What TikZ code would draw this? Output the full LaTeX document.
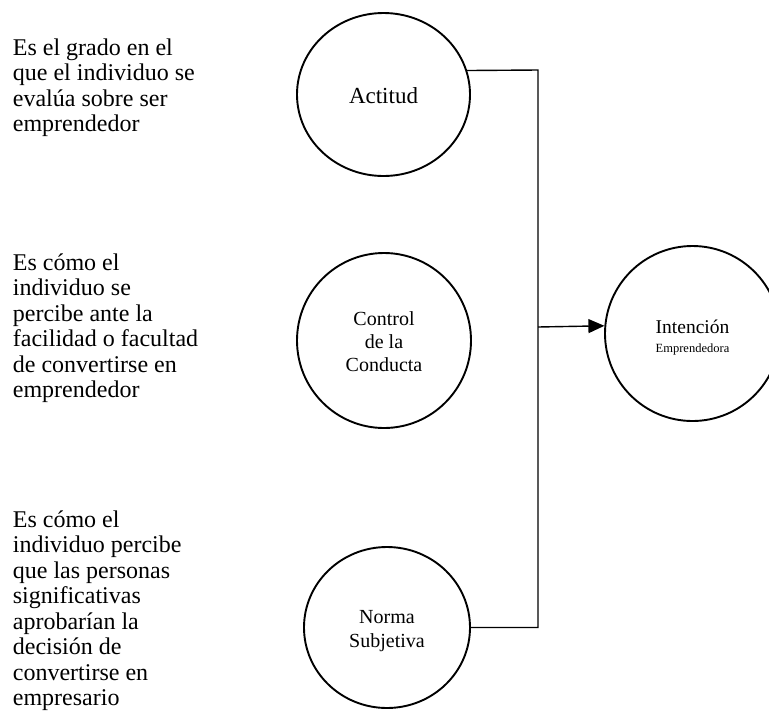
\documentclass[tikz,border=0pt]{standalone}
\usepackage{fontspec}
\setmainfont{Liberation Serif}
\usetikzlibrary{shapes.geometric,arrows.meta}
\tikzset{
  circ/.style={draw=black, line width=1.9pt, ellipse, inner sep=0pt},
  conn/.style={draw=black, line width=1.4pt},
  desc/.style={anchor=base west, inner sep=0pt, font=\fontsize{24}{25.5}\selectfont},
  lbl/.style={anchor=base, inner sep=0pt},
}
\begin{document}
\begin{tikzpicture}[x=1pt,y=-1pt]
\useasboundingbox (0,0) rectangle (769,724);
% circles
\node[circ, minimum width=173pt, minimum height=163pt] (act) at (383.5,94.5) {};
\node[circ, minimum width=174pt, minimum height=175pt] (ctl) at (384,340.5) {};
\node[circ, minimum width=175pt, minimum height=175pt] (int) at (692.5,333.5) {};
\node[circ, minimum width=166pt, minimum height=161pt] (nrm) at (387,627.5) {};
% labels
\node[lbl, font=\fontsize{23}{26}\selectfont] (tact) at (383.5,103) {Actitud};
\node[lbl, font=\fontsize{20}{23}\selectfont] (tctl) at (384,325)
  {\begin{tabular}[t]{@{}c@{}}Control\\de la\\Conducta\end{tabular}};
\node[lbl, font=\fontsize{19.5}{22}\selectfont] (tint) at (692.5,333) {Intención};
\node[lbl, font=\fontsize{12.5}{15}\selectfont] (tint2) at (692.5,352) {Emprendedora};
\node[lbl, font=\fontsize{20}{24}\selectfont] (tnrm) at (387,623)
  {\begin{tabular}[t]{@{}c@{}}Norma\\Subjetiva\end{tabular}};
% descriptions
\node[desc] (d1) at (12.7,55)
  {\begin{tabular}[t]{@{}l@{}}Es el grado en el\\que el individuo se\\evalúa sobre ser\\emprendedor\end{tabular}};
\node[desc] (d2) at (12.7,270)
  {\begin{tabular}[t]{@{}l@{}}Es cómo el\\individuo se\\percibe ante la\\facilidad o facultad\\de convertirse en\\emprendedor\end{tabular}};
\node[desc] (d3) at (12.7,527)
  {\begin{tabular}[t]{@{}l@{}}Es cómo el\\individuo percibe\\que las personas\\significativas\\aprobarían la\\decisión de\\convertirse en\\empresario\end{tabular}};
% connectors
\coordinate (j1) at (538,70);
\coordinate (j2) at (538,327);
\coordinate (j3) at (538,627.5);
\draw[conn] (act.16.4) -- (j1) -- (j3) -- (nrm.east);
\draw[conn, -{Triangle[length=16pt,width=14pt]}] (j2) -- (int.175.8);
\end{tikzpicture}
\end{document}
